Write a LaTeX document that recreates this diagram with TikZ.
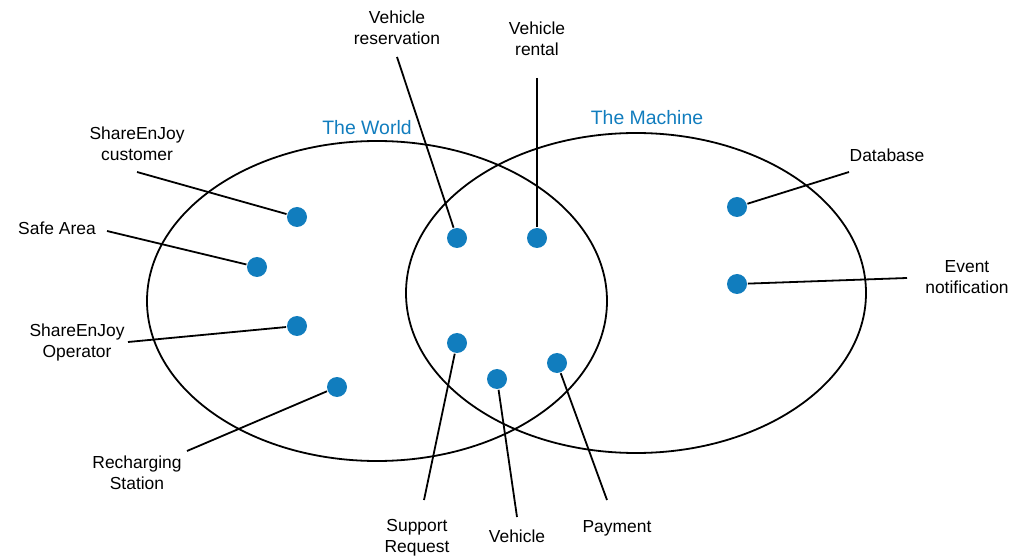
\documentclass[tikz,border=0pt]{standalone}
\usepackage{fontspec}
\setmainfont{Liberation Sans}
\usetikzlibrary{shapes.geometric}
\definecolor{dotblue}{RGB}{17,125,190}
\begin{document}
\begin{tikzpicture}[x=1bp,y=-1bp,line width=1.8bp,
  lbl/.style={font=\fontsize{17.5}{21}\selectfont,align=center,inner sep=0pt},
  ttl/.style={font=\fontsize{19.5}{23}\selectfont,text=dotblue,inner sep=0pt},
  dot/.style={circle,fill=dotblue,minimum size=20bp,inner sep=0pt},
  setshape/.style={ellipse,draw,line width=1.8bp,minimum width=460bp,minimum height=320bp,inner sep=0pt},
  conn/.style={draw,line width=1.8bp}]
\useasboundingbox (0,0) rectangle (1024,560);
% sets
\node[setshape] (world) at (377,301) {};
\node[setshape] (machine) at (636,293) {};
\node[ttl,anchor=base] (tworld) at (367,135) {The World};
\node[ttl,anchor=base] (tmachine) at (647,125) {The Machine};
% label ends
\coordinate (ecust) at (137,172);
\coordinate (esafe) at (107,231);
\coordinate (eoper) at (128,342);
\coordinate (erech) at (187,451);
\coordinate (eresv) at (397,57);
\coordinate (erent) at (537,78);
\coordinate (esupp) at (424,500);
\coordinate (eveh) at (517,517);
\coordinate (epay) at (607,500);
\coordinate (edb) at (849,172);
\coordinate (eev) at (907,278);
% dots
\node[dot] (dcust) at (297,217) {};
\node[dot] (dsafe) at (257,267) {};
\node[dot] (doper) at (297,326) {};
\node[dot] (drech) at (337,387) {};
\node[dot] (dresv) at (457,238) {};
\node[dot] (drent) at (537,238) {};
\node[dot] (dsupp) at (457,343) {};
\node[dot] (dveh) at (497,379) {};
\node[dot] (dpay) at (557,363) {};
\node[dot] (ddb) at (737,207) {};
\node[dot] (dev) at (737,284) {};
% connectors
\path[conn] (ecust) -- (dcust);
\path[conn] (esafe) -- (dsafe);
\path[conn] (eoper) -- (doper);
\path[conn] (erech) -- (drech);
\path[conn] (eresv) -- (dresv);
\path[conn] (erent) -- (drent);
\path[conn] (esupp) -- (dsupp);
\path[conn] (eveh) -- (dveh);
\path[conn] (epay) -- (dpay);
\path[conn] (edb) -- (ddb);
\path[conn] (eev) -- (dev);
% labels
\node[lbl] (lresv) at (397,28.2) {Vehicle\\reservation};
\node[lbl] (lrent) at (537,38.7) {Vehicle\\rental};
\node[lbl] (lcust) at (137,144) {ShareEnJoy\\customer};
\node[lbl,anchor=base] (lsafe) at (57,234.5) {Safe Area};
\node[lbl] (loper) at (77,342.8) {ShareEnJoy\\Operator};
\node[lbl] (lrech) at (137,472.5) {Recharging\\Station};
\node[lbl,anchor=base] (ldb) at (887,161.5) {Database};
\node[lbl] (lev) at (967,277) {Event\\notification};
\node[lbl] (lsupp) at (417,538) {Support\\Request};
\node[lbl,anchor=base] (lveh) at (517,542.5) {Vehicle};
\node[lbl,anchor=base] (lpay) at (617,532.5) {Payment};
\end{tikzpicture}
\end{document}
